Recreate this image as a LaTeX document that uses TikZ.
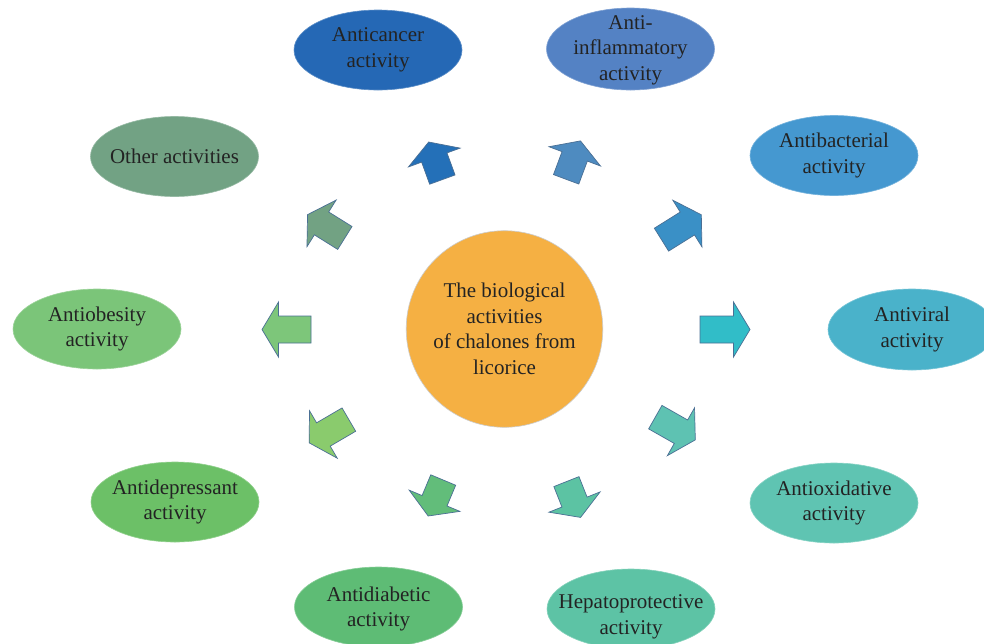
\documentclass[tikz,border=0pt]{standalone}
\usepackage{fontspec}
\setmainfont{Liberation Serif}
\usetikzlibrary{shapes.geometric}
\definecolor{txt}{HTML}{232323}
\definecolor{arrline}{HTML}{4A6F94}
\definecolor{cCenter}{HTML}{F5B043}
\definecolor{cCancer}{HTML}{2568B5}
\definecolor{cInfl}{HTML}{5482C4}
\definecolor{cBact}{HTML}{4598D0}
\definecolor{cViral}{HTML}{4AB2CA}
\definecolor{cOxid}{HTML}{5FC4B2}
\definecolor{cHepa}{HTML}{5DC3A5}
\definecolor{cDiab}{HTML}{5EBC75}
\definecolor{cDepr}{HTML}{6CC067}
\definecolor{cObes}{HTML}{7BC579}
\definecolor{cOther}{HTML}{72A284}
\definecolor{aCancer}{HTML}{2470B8}
\definecolor{aInfl}{HTML}{4E8BC0}
\definecolor{aBact}{HTML}{3A90C6}
\definecolor{aViral}{HTML}{31BDC8}
\definecolor{aOxid}{HTML}{5EC2B2}
\definecolor{aHepa}{HTML}{5CC3A3}
\definecolor{aDiab}{HTML}{62BD7A}
\definecolor{aDepr}{HTML}{8ACB6D}
\definecolor{aObes}{HTML}{7DC67A}
\definecolor{aOther}{HTML}{72A283}
\tikzset{
  activity/.style={ellipse, minimum width=168pt, minimum height=80pt, inner sep=0pt,
    fill=#1, draw=#1!75!white, line width=0.6pt},
  lbl/.style={inner sep=0pt, text=txt, align=center,
    font=\fontsize{21}{25.5}\selectfont},
  hub/.style={circle, minimum size=196.6pt, inner sep=0pt, fill=cCenter,
    draw=gray!40, line width=0.6pt, text=txt, align=center,
    font=\fontsize{21}{25.5}\selectfont},
  blockarr/.style={draw=arrline, line width=0.7pt, line join=miter, fill=#1}
}
% name, x, y, angle, length, colour
\newcommand\myblockarrow[6]{%
  \begin{scope}[shift={(#2,#3)}, rotate=#4]
    \pgfmathsetmacro\hl{#5/2}
    \pgfmathsetmacro\hb{#5/2-16.5}
    \coordinate (#1) at (0,0);
    \path[blockarr=#6] (-\hl,-13.5) -- (\hb,-13.5) -- (\hb,-27.5) -- (\hl,0)
      -- (\hb,27.5) -- (\hb,13.5) -- (-\hl,13.5) -- cycle;
  \end{scope}}
\begin{document}
\begin{tikzpicture}[x=1pt, y=-1pt]
\useasboundingbox (0,0) rectangle (984,643);
\clip (0,0) rectangle (984,643);
\fill[white] (0,0) rectangle (984,643);

\node[hub] (center) at (504.5,329) {The biological\\activities\\of chalones from\\licorice};

\node[activity=cCancer] (cancer) at (378,50) {};
\node[activity=cInfl, minimum height=82pt] (infl) at (630.5,49) {};
\node[activity=cBact] (bact) at (834,155.5) {};
\node[activity=cViral, minimum height=81pt] (viral) at (912,329.5) {};
\node[activity=cOxid] (oxid) at (834,503) {};
\node[activity=cHepa] (hepa) at (631,609) {};
\node[activity=cDiab] (diab) at (378.5,607) {};
\node[activity=cDepr] (depr) at (175,502) {};
\node[activity=cObes] (obes) at (97,329) {};
\node[activity=cOther] (other) at (174.5,156.5) {};

\node[lbl] (tcancer) at (cancer) {Anticancer\\activity};
\node[lbl] (tinfl) at ([yshift=-1pt]infl.center) {Anti-\\inflammatory\\activity};
\node[lbl] (tbact) at (bact) {Antibacterial\\activity};
\node[lbl] (tviral) at (viral) {Antiviral\\activity};
\node[lbl] (toxid) at (oxid) {Antioxidative\\activity};
\node[lbl] (thepa) at ([yshift=-8pt]hepa.center) {Hepatoprotective\\activity};
\node[lbl] (tdiab) at ([yshift=-2pt]diab.center) {Antidiabetic\\activity};
\node[lbl] (tdepr) at (depr) {Antidepressant\\activity};
\node[lbl] (tobes) at (obes) {Antiobesity\\activity};
\node[lbl] (tother) at (other) {Other activities};

\myblockarrow{arrCancer}{435.5}{160.8}{110}{40}{aCancer}
\myblockarrow{arrInfl}{573.3}{160.1}{69.5}{41}{aInfl}
\myblockarrow{arrBact}{681.4}{227.2}{32}{47}{aBact}
\myblockarrow{arrViral}{725}{329.5}{0}{50}{aViral}
\myblockarrow{arrOxid}{675.3}{428.5}{-29.6}{46}{aOxid}
\myblockarrow{arrHepa}{573.5}{499.5}{-68.4}{38.5}{aHepa}
\myblockarrow{arrDiab}{435.7}{498}{-112.7}{39}{aDiab}
\myblockarrow{arrDepr}{329}{431.2}{210.3}{46}{aDepr}
\myblockarrow{arrObes}{286.5}{329.5}{180}{49}{aObes}
\myblockarrow{arrOther}{326.2}{226.3}{148}{44}{aOther}
\end{tikzpicture}
\end{document}
